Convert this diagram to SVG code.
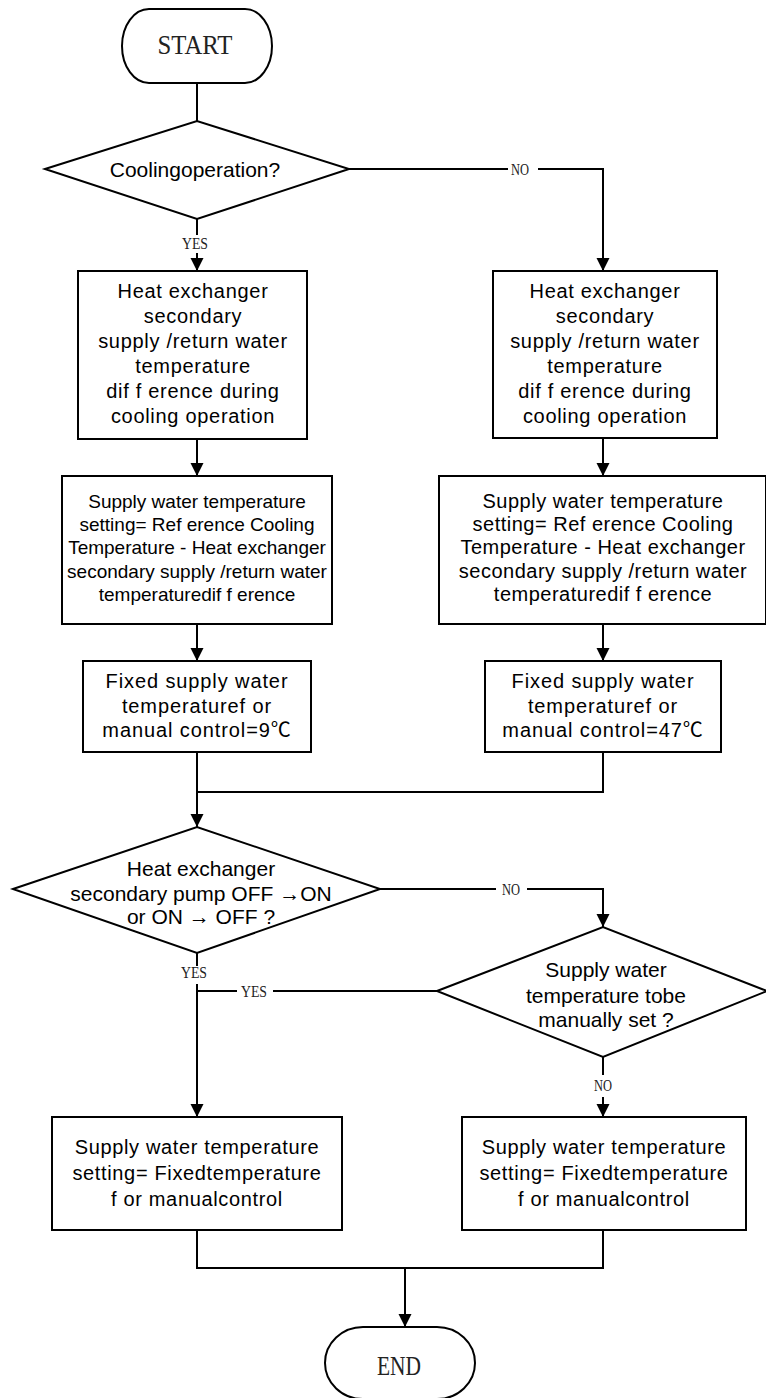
<svg xmlns="http://www.w3.org/2000/svg" width="766" height="1398" viewBox="0 0 766 1398">
<defs>
<style>
.shape{fill:#fff;stroke:#000;stroke-width:2}
.line{fill:none;stroke:#000;stroke-width:2}
.t{font-family:"Liberation Sans",Arial,"Noto Sans CJK SC",sans-serif;font-size:20px;text-anchor:middle;fill:#000}
.t19{font-family:"Liberation Sans",Arial,"Noto Sans CJK SC",sans-serif;font-size:19px;text-anchor:middle;fill:#000}
.d{font-family:"Liberation Sans",Arial,"Noto Sans CJK SC",sans-serif;font-size:21px;text-anchor:middle;fill:#000}
.lb{font-family:"Liberation Serif","Times New Roman",serif;font-size:16px;text-anchor:middle;fill:#222}
.term{font-family:"Liberation Serif","Times New Roman",serif;font-size:27px;text-anchor:middle;fill:#222}
</style>
<marker id="arr" markerUnits="userSpaceOnUse" markerWidth="14" markerHeight="14" refX="13" refY="6.5" orient="auto">
<path d="M0,0 L13,6.5 L0,13 Z" fill="#000"/>
</marker>
</defs>
<rect width="766" height="1398" fill="#fff"/>

<g id="connectors">
<path class="line" d="M197,83 V121"/>
<path class="line" d="M197,219 V235 M197,253 V271" marker-end="url(#arr)"/>
<path class="line" d="M349,169 H508 M538,169 H603 V271" marker-end="url(#arr)"/>
<path class="line" d="M197,439 V476" marker-end="url(#arr)"/>
<path class="line" d="M603,438 V476" marker-end="url(#arr)"/>
<path class="line" d="M197,624 V661" marker-end="url(#arr)"/>
<path class="line" d="M603,624 V661" marker-end="url(#arr)"/>
<path class="line" d="M197,752 V827" marker-end="url(#arr)"/>
<path class="line" d="M603,752 V792 H197"/>
<path class="line" d="M380,889 H496 M527,889 H603 V927" marker-end="url(#arr)"/>
<path class="line" d="M437,991 H273 M237,991 H197"/>
<path class="line" d="M197,953 V966 M197,984 V1117" marker-end="url(#arr)"/>
<path class="line" d="M603,1057 V1075 M603,1097 V1117" marker-end="url(#arr)"/>
<path class="line" d="M197,1230 V1268 H603 V1230"/>
<path class="line" d="M405,1268 V1327" marker-end="url(#arr)"/>
<text class="lb" x="520" y="175" textLength="18" lengthAdjust="spacingAndGlyphs">NO</text>
<text class="lb" x="195" y="249" textLength="26" lengthAdjust="spacingAndGlyphs">YES</text>
<text class="lb" x="511" y="895" textLength="18" lengthAdjust="spacingAndGlyphs">NO</text>
<text class="lb" x="194" y="978" textLength="26" lengthAdjust="spacingAndGlyphs">YES</text>
<text class="lb" x="254" y="997" textLength="26" lengthAdjust="spacingAndGlyphs">YES</text>
<text class="lb" x="603" y="1091" textLength="18" lengthAdjust="spacingAndGlyphs">NO</text>
</g>

<g id="start">
<path class="shape" d="M149,9 H245 A27,37 0 0 1 245,83 H149 A27,37 0 0 1 149,9 Z"/>
<text class="term" x="195" y="54" textLength="75" lengthAdjust="spacingAndGlyphs">START</text>
</g>

<g id="cooling-decision">
<polygon class="shape" points="45,169 197,121 349,169 197,219"/>
<text class="d" x="195" y="177">Coolingoperation?</text>
</g>

<g id="diff-left">
<rect class="shape" x="78" y="271" width="229" height="168"/>
<text class="t" x="193" y="298" letter-spacing="0.7">Heat exchanger</text>
<text class="t" x="193" y="323" letter-spacing="0.7">secondary</text>
<text class="t" x="193" y="348" letter-spacing="0.7">supply /return  water</text>
<text class="t" x="193" y="373" letter-spacing="0.7">temperature</text>
<text class="t" x="193" y="398" letter-spacing="0.7">dif f erence during</text>
<text class="t" x="193" y="423" letter-spacing="0.7">cooling operation</text>
</g>

<g id="diff-right">
<rect class="shape" x="493" y="271" width="224" height="167"/>
<text class="t" x="605" y="298" letter-spacing="0.7">Heat exchanger</text>
<text class="t" x="605" y="323" letter-spacing="0.7">secondary</text>
<text class="t" x="605" y="348" letter-spacing="0.7">supply /return water</text>
<text class="t" x="605" y="373" letter-spacing="0.7">temperature</text>
<text class="t" x="605" y="398" letter-spacing="0.7">dif f erence during</text>
<text class="t" x="605" y="423" letter-spacing="0.7">cooling operation</text>
</g>

<g id="setting-left">
<rect class="shape" x="62" y="476" width="270" height="148"/>
<text class="t19" x="197" y="508">Supply  water temperature</text>
<text class="t19" x="197" y="531">setting= Ref erence Cooling</text>
<text class="t19" x="197" y="554">Temperature - Heat exchanger</text>
<text class="t19" x="197" y="578">secondary  supply /return water</text>
<text class="t19" x="197" y="601">temperaturedif f erence</text>
</g>

<g id="setting-right">
<rect class="shape" x="439" y="476" width="327" height="148"/>
<text class="t" x="603" y="508" letter-spacing="0.5">Supply  water temperature</text>
<text class="t" x="603" y="531" letter-spacing="0.5">setting= Ref erence Cooling</text>
<text class="t" x="603" y="554" letter-spacing="0.5">Temperature - Heat exchanger</text>
<text class="t" x="603" y="578" letter-spacing="0.5">secondary  supply /return water</text>
<text class="t" x="603" y="601" letter-spacing="0.5">temperaturedif f erence</text>
</g>

<g id="fixed-left">
<rect class="shape" x="83" y="661" width="228" height="91"/>
<text class="t" x="197" y="688" letter-spacing="0.9">Fixed supply water</text>
<text class="t" x="197" y="713" letter-spacing="0.9">temperaturef or</text>
<text class="t" x="197" y="737" letter-spacing="0.9">manual control=9℃</text>
</g>

<g id="fixed-right">
<rect class="shape" x="485" y="661" width="236" height="91"/>
<text class="t" x="603" y="688" letter-spacing="0.9">Fixed supply water</text>
<text class="t" x="603" y="713" letter-spacing="0.9">temperaturef or</text>
<text class="t" x="603" y="737" letter-spacing="0.9">manual control=47℃</text>
</g>

<g id="pump-decision">
<polygon class="shape" points="13,889 197,827 380,889 197,953"/>
<text class="d" x="201" y="876">Heat exchanger</text>
<text class="d" x="201" y="901">secondary pump OFF →ON</text>
<text class="d" x="201" y="924">or ON → OFF ?</text>
</g>

<g id="manual-decision">
<polygon class="shape" points="437,991 603,927 767,991 603,1057"/>
<text class="d" x="606" y="977">Supply  water</text>
<text class="d" x="606" y="1003">temperature tobe</text>
<text class="d" x="606" y="1027">manually set ?</text>
</g>

<g id="fixed-set-left">
<rect class="shape" x="52" y="1117" width="290" height="113"/>
<text class="t" x="197" y="1154" letter-spacing="0.65">Supply  water temperature</text>
<text class="t" x="197" y="1180" letter-spacing="0.65">setting= Fixedtemperature</text>
<text class="t" x="197" y="1206" letter-spacing="0.65">f or manualcontrol</text>
</g>

<g id="fixed-set-right">
<rect class="shape" x="462" y="1117" width="284" height="113"/>
<text class="t" x="604" y="1154" letter-spacing="0.65">Supply  water temperature</text>
<text class="t" x="604" y="1180" letter-spacing="0.65">setting= Fixedtemperature</text>
<text class="t" x="604" y="1206" letter-spacing="0.65">f or manualcontrol</text>
</g>

<g id="end">
<path class="shape" d="M363,1327 H437 A38,36 0 0 1 437,1399 H363 A38,36 0 0 1 363,1327 Z"/>
<text class="term" x="399" y="1375" textLength="44" lengthAdjust="spacingAndGlyphs">END</text>
</g>
</svg>
